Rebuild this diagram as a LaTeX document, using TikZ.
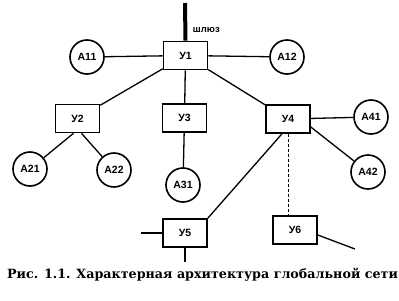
\documentclass[tikz,border=0pt]{standalone}
\usepackage{fontspec}
\setmainfont{Liberation Sans}
\newfontfamily\capfont{DejaVu Serif}
\usetikzlibrary{calc}

\begin{document}
\begin{tikzpicture}[x=1pt, y=-1pt, line width=1.3pt,
  uzel/.style={draw, line width=1.6pt, minimum width=44pt, minimum height=28pt, inner sep=0pt, font=\bfseries\fontsize{10.5}{12}\selectfont},
  abon/.style={draw, circle, line width=1.6pt, minimum size=34pt, inner sep=0pt, font=\bfseries\fontsize{10.5}{12}\selectfont}]
  \useasboundingbox (0,0) rectangle (399,300);
  \fill[white] (0,0) rectangle (399,300);
  % узлы
  \node[uzel] (U1) at (185.5,55.5) {У1};
  \node[uzel] (U2) at (77.5,118.5) {У2};
  \node[uzel] (U3) at (184.5,118) {У3};
  \node[uzel] (U4) at (288,119) {У4};
  \node[uzel] (U5) at (185,233) {У5};
  \node[uzel] (U6) at (295,230) {У6};
  % абоненты
  \node[abon] (A11) at (87,57) {A11};
  \node[abon] (A12) at (287,57) {A12};
  \node[abon] (A21) at (30,169) {A21};
  \node[abon] (A22) at (114,170) {A22};
  \node[abon] (A31) at (183,185) {A31};
  \node[abon] (A41) at (371,117) {A41};
  \node[abon] (A42) at (368,172) {A42};
  % шлюз
  \coordinate (G) at (185,3);
  \draw[line width=4pt] (G) -- (U1.north);
  \node[anchor=west, font=\bfseries\fontsize{9.5}{11}\selectfont] (shl) at (189,30) {шлюз};
  \draw (A11) -- (U1);
  \draw (U1) -- (A12);
  \draw (U1) -- (U2);
  \draw (U1) -- (U3);
  \draw (U1) -- (U4);
  \draw ([xshift=-4pt]U2.south) -- (A21);
  \draw ([xshift=4pt]U2.south) -- (A22);
  \draw (U3) -- (A31);
  \draw (U4) -- (A41);
  \draw ([yshift=-8pt]U4.east) -- (A42);
  \draw ([xshift=-6pt]U4.south) -- (U5.north east);
  \draw[line width=0.8pt, densely dashed] (U4.south) -- (U4.south |- U6.north);
  % выходы во внешние сети
  \coordinate (s1) at (141,233);
  \coordinate (s2) at (185,262);
  \coordinate (s3) at (355,249);
  \draw (s1) -- (U5.west);
  \draw (U5.south) -- (s2);
  \draw ([yshift=-5pt]U6.east) -- (s3);
  \node[font=\capfont\bfseries\fontsize{12.7}{14}\selectfont] (cap) at (202.5,275) {Рис. 1.1. Характерная архитектура глобальной сети};
\end{tikzpicture}
\end{document}
